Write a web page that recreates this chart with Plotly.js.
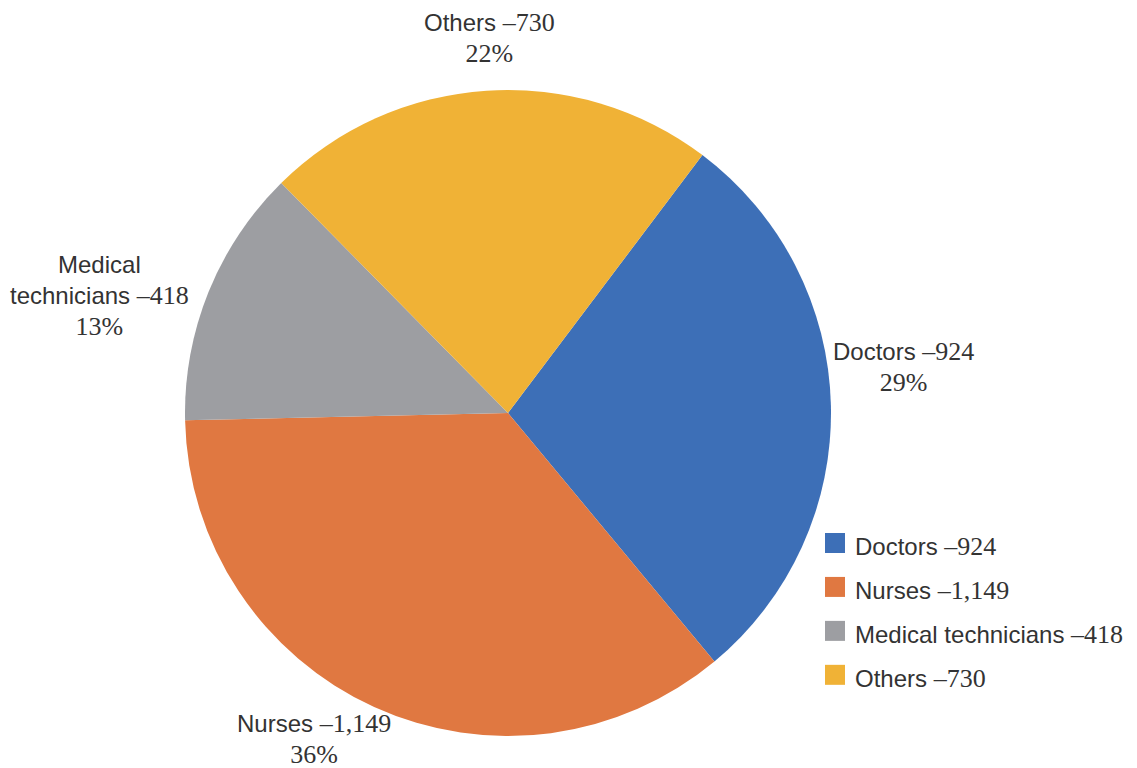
<!DOCTYPE html>
<html>
<head>
<meta charset="utf-8">
<script src="https://cdn.plot.ly/plotly-3.0.1.min.js"></script>
<style>html,body{margin:0;padding:0;background:#fff;}#chart{width:1137px;height:768px;}</style>
</head>
<body>
<div id="chart"></div>
<script>
// Data
const categories = ["Doctors", "Nurses", "Medical technicians", "Others"];
const labelNames = ["Doctors", "Nurses", "Medical<br>technicians", "Others"];
const values = [924, 1149, 418, 730];
const percentLabels = ["29%", "36%", "13%", "22%"];
const colors = ["#3d6fb7", "#e07841", "#9d9ea2", "#f0b236"];

const W = 1137, H = 768;
const SANS = "Liberation Sans, Arial, sans-serif";
const SERIF = "Liberation Serif, Times New Roman, serif";
const fmt = v => v.toLocaleString("en-US");
const serif = s => `<span style="font-family:${SERIF};font-size:26px">${s}</span>`;

// Legend labels (sans name + serif number)
const legendLabels = categories.map((c, i) =>
  `<span style="font-size:24px">${c} ${serif("–" + fmt(values[i]))}</span>`);

// Pie geometry (pixels)
const cx = 508, cy = 413, r = 323;

// External label positions (pixel centres)
const labelPos = [[903, 367], [314, 739], [99, 296], [489, 38]];

const annotations = categories.map((c, i) => ({
  xref: "paper", yref: "paper",
  x: labelPos[i][0] / W, y: 1 - labelPos[i][1] / H,
  xanchor: "center", yanchor: "middle",
  showarrow: false, align: "center",
  font: {family: SANS, size: 24, color: "#333333"},
  text: `${labelNames[i]} ${serif("–" + fmt(values[i]))}<br>${serif(percentLabels[i])}`
}));

const trace = {
  type: "pie",
  labels: legendLabels,
  values: values,
  marker: {colors: colors, line: {width: 0}},
  sort: false,
  direction: "clockwise",
  rotation: 37,
  textinfo: "none",
  hoverinfo: "none",
  domain: {x: [(cx - r) / W, (cx + r) / W], y: [1 - (cy + r) / H, 1 - (cy - r) / H]}
};

const layout = {
  width: W, height: H,
  margin: {l: 0, r: 0, t: 0, b: 0},
  paper_bgcolor: "#ffffff",
  showlegend: true,
  legend: {
    x: 815 / W, y: 1 - 516 / H, xanchor: "left", yanchor: "top",
    font: {family: SANS, size: 31.5, color: "#333333"},
    bgcolor: "rgba(0,0,0,0)", borderwidth: 0
  },
  annotations: annotations
};

Plotly.newPlot("chart", [trace], layout, {staticPlot: true}).then(() => {
  document.querySelectorAll(".legendpoints path").forEach(p => {
    p.setAttribute("d", "M10,10H-10V-10H10Z");
  });
});
</script>
</body>
</html>
